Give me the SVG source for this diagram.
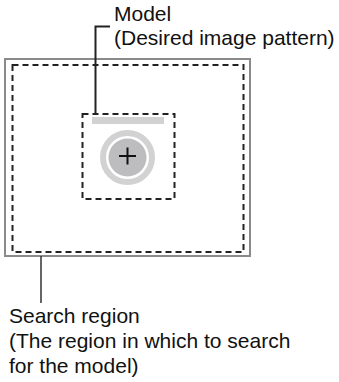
<svg xmlns="http://www.w3.org/2000/svg" width="339" height="382" viewBox="0 0 339 382">
<style>
.lbl{font-family:"Liberation Sans",Arial,sans-serif;font-size:21px;fill:#111}
.dash{fill:none;stroke:#222;stroke-width:2;stroke-dasharray:6 4}
.lead{fill:none;stroke:#222;stroke-width:2}
</style>
<rect width="339" height="382" fill="#fff"/>
<g id="search-region">
<rect x="5" y="59" width="245" height="197" fill="none" stroke="#8a8a8a" stroke-width="2"/>
<rect x="12.5" y="65" width="231" height="187" class="dash"/>
</g>
<g id="model">
<rect x="82.5" y="114" width="92" height="85" class="dash"/>
<rect x="92" y="117" width="72" height="7" fill="#d2d2d2"/>
<circle cx="127.5" cy="157.5" r="24.5" fill="none" stroke="#d2d2d2" stroke-width="6"/>
<circle cx="127.5" cy="157.5" r="19" fill="#bdbdc0"/>
<path d="M119 156H136M127.5 147.5V164.5" stroke="#111" stroke-width="2"/>
</g>
<g id="connectors">
<path d="M95.5 114V26.5H110" class="lead"/>
<path d="M41 256V303" fill="none" stroke="#333" stroke-width="1.5"/>
</g>
<g id="label-model">
<text class="lbl" x="114" y="21">Model</text>
<text class="lbl" x="114" y="45">(Desired image pattern)</text>
</g>
<g id="label-search">
<text class="lbl" x="9" y="323">Search region</text>
<text class="lbl" x="9" y="348">(The region in which to search</text>
<text class="lbl" x="9" y="373">for the model)</text>
</g>
</svg>
